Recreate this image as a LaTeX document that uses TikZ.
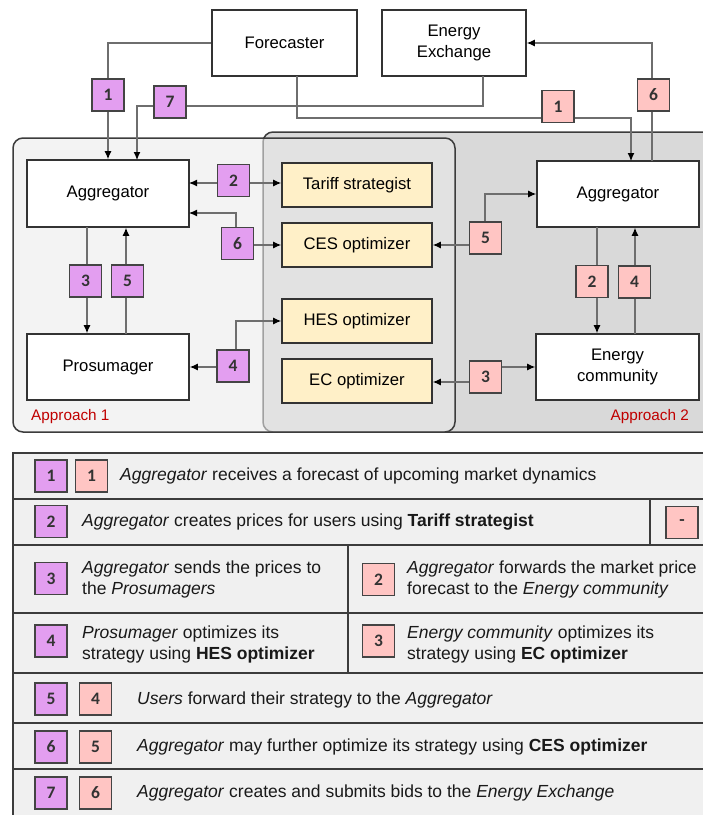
\documentclass[tikz,border=0pt]{standalone}
\usepackage{fontspec}
\setmainfont{Liberation Sans}
\newfontfamily\badgeface{Carlito}
\usetikzlibrary{arrows.meta,calc}

\definecolor{boxline}{HTML}{333333}
\definecolor{panelline}{HTML}{3C3C3C}
\definecolor{wirecol}{HTML}{6E6E6E}
\definecolor{badgeline}{HTML}{444444}
\definecolor{purpbadge}{HTML}{E39EF0}
\definecolor{pinkbadge}{HTML}{FFC5C3}
\definecolor{optfill}{HTML}{FFF0C8}
\definecolor{apponefill}{HTML}{EAEAEA}
\definecolor{apptwofill}{HTML}{D9D9D9}
\definecolor{legendfill}{HTML}{F0F0F0}
\definecolor{apptext}{HTML}{C00000}

\newcommand\boxfont{\fontsize{16.7pt}{21.5pt}\selectfont}
\newcommand\lgfont{\fontsize{17.5pt}{21pt}\selectfont}
\newcommand\badgetext{\badgeface\bfseries\fontsize{17.5pt}{20pt}\selectfont}
\newcommand\appfont{\fontsize{15.3pt}{18pt}\selectfont}

\begin{document}
\begin{tikzpicture}[x=1pt,y=-1pt,
  unit/.style={draw=boxline, line width=1.6pt, fill=white, inner sep=0pt,
    align=center, font=\boxfont, text=black},
  topbox/.style={unit, minimum width=145pt, minimum height=66pt},
  bigbox/.style={unit, minimum width=162pt, minimum height=66pt},
  optbox/.style={unit, fill=optfill, minimum width=150pt, minimum height=44pt},
  pb/.style={draw=badgeline, line width=1.2pt, fill=purpbadge,
    minimum size=32pt, inner sep=0pt, font=\badgetext, text=black!80},
  rb/.style={pb, fill=pinkbadge},
  wire/.style={draw=wirecol, line width=1.1pt},
  fwd/.style={-{Latex[length=8pt,width=7pt,color=black]}},
  twoway/.style={{Latex[length=8pt,width=7pt,color=black]}-{Latex[length=8pt,width=7pt,color=black]}},
  panel/.style={draw=panelline, line width=1.5pt, rounded corners=10pt},
  rule/.style={draw=panelline, line width=1.5pt},
  lgtext/.style={anchor=west, align=left, inner sep=0pt, font=\lgfont, text=black!90},
  applabel/.style={inner sep=0pt, font=\appfont, text=apptext}
]
\useasboundingbox (0,0) rectangle (703,815);
\clip (0,0) rectangle (703,815);

% ---------- the two approach panels ----------
\draw[panel, fill=apptwofill] (263,132) rectangle (730,432);
\draw[panel, fill=apponefill, fill opacity=0.58] (13,138) rectangle (455,432);

% ---------- actors and optimizers ----------
\node[topbox] (fc) at (284.5,43) {Forecaster};
\node[topbox, minimum width=144pt] (ex) at (454,43) {Energy\\Exchange};
\node[bigbox, minimum height=67pt] (aggL) at (108,193.5) {Aggregator};
\node[bigbox] (pros) at (108,367) {Prosumager};
\node[optbox] (tariff) at (357,185) {Tariff strategist};
\node[optbox] (ces) at (357,245) {CES optimizer};
\node[optbox] (hes) at (357,321) {HES optimizer};
\node[optbox] (ecopt) at (357,381) {EC optimizer};
\node[bigbox] (aggR) at (618,194) {Aggregator};
\node[bigbox, minimum width=163pt] (encom) at (617.5,367) {Energy\\community};

% ---------- attachment points ----------
\coordinate (exOut) at (483,76);
\coordinate (aggLin) at (137,160);
\coordinate (fcOut) at (297,76);
\coordinate (aggRin) at (631,161);
\coordinate (aggRout) at (652,161);
\coordinate (aggL2) at (189,183);
\coordinate (aggL6) at (189,213);
\coordinate (w6p) at (236,245);
\coordinate (aggL3) at (87,227);
\coordinate (pros5) at (126,334);
\coordinate (w4p) at (236,367);
\coordinate (w5r) at (485,245);
\coordinate (aggR2) at (597,227);
\coordinate (ec4) at (635,334);
\coordinate (w3l) at (485,382);
\coordinate (w3r) at (485,367);

% ---------- connectors ----------
% Approach 1
\draw[wire,fwd] (fc.west) -| (aggL.north);
\draw[wire,fwd] (exOut) -- ++(0,30) -| (aggLin);
\draw[wire,twoway] (aggL2) -- (aggL2 -| tariff.west);
\draw[wire,fwd] (w6p) |- (aggL6);
\draw[wire,fwd] (w6p) -- (w6p -| ces.west);
\draw[wire,fwd] (aggL3) -- (aggL3 |- pros.north);
\draw[wire,fwd] (pros5) -- (pros5 |- aggL.south);
\draw[wire,fwd] (w4p) -- (w4p -| pros.east);
\draw[wire,fwd] (w4p) |- (hes.west);
% Approach 2
\draw[wire,fwd] (fcOut) -- ++(0,42) -| (aggRin);
\draw[wire,fwd] (aggRout) |- (ex.east);
\draw[wire,fwd] (w5r) -- (w5r -| ces.east);
\draw[wire,fwd] (w5r) |- (aggR.west);
\draw[wire,fwd] (aggR2) -- (aggR2 |- encom.north);
\draw[wire,fwd] (ec4) -- (ec4 |- aggR.south);
\draw[wire,fwd] (w3l) -- (w3l -| ecopt.east);
\draw[wire,fwd] (w3r) -- (w3r -| encom.west);

% ---------- step badges on the connectors ----------
\node[pb] (p1) at (108,95) {1};
\node[pb] (p7) at (170,102) {7};
\node[pb] (p2) at (233.5,180.5) {2};
\node[pb] (p6) at (237.5,243.5) {6};
\node[pb] (p3) at (85.5,281) {3};
\node[pb] (p5) at (127.5,281) {5};
\node[pb] (p4) at (233,366) {4};
\node[rb] (r1) at (558,106.5) {1};
\node[rb] (r6) at (653.5,95) {6};
\node[rb] (r5) at (485.5,238) {5};
\node[rb] (r2) at (592,281.5) {2};
\node[rb] (r4) at (634.5,282) {4};
\node[rb] (r3) at (485.5,377) {3};

\node[applabel, anchor=west] (app1) at (31,417) {Approach 1};
\node[applabel, anchor=east] (app2) at (689,417) {Approach 2};

% ---------- legend table ----------
\draw[rule, fill=legendfill] (13,453) rectangle (730,840);
\foreach \yy in {499,545,613,673,723,769}
  \draw[rule] (13,\yy) -- (730,\yy);
\draw[rule] (650,499) -- (650,545);
\draw[rule] (348,545) -- (348,673);

% row 1
\node[pb] (l1p) at (51,476) {1};
\node[rb] (l1r) at (91.5,476) {1};
\node[lgtext] (t1) at (120,476) {\textit{Aggregator} receives a forecast of upcoming market dynamics};
% row 2
\node[pb] (l2p) at (51,521.5) {2};
\node[lgtext] (t2) at (82,522) {\textit{Aggregator} creates prices for users using \textbf{Tariff strategist}};
\node[rb] (l2r) at (682,522.5) {-};
% row 3
\node[pb] (l3p) at (51,578.5) {3};
\node[lgtext] (t3) at (82,579) {\textit{Aggregator} sends the prices to\\the \textit{Prosumagers}};
\node[rb] (l3r) at (378.5,579.5) {2};
\node[lgtext] (t3r) at (407,579) {\textit{Aggregator} forwards the market price\\forecast to the \textit{Energy community}};
% row 4
\node[pb] (l4p) at (51,641) {4};
\node[lgtext] (t4) at (82,644) {\textit{Prosumager} optimizes its\\strategy using \textbf{HES optimizer}};
\node[rb] (l4r) at (378.5,641) {3};
\node[lgtext] (t4r) at (407,644) {\textit{Energy community} optimizes its\\strategy using \textbf{EC optimizer}};
% row 5
\node[pb] (l5p) at (51,699) {5};
\node[rb] (l5r) at (95.5,699) {4};
\node[lgtext] (t5) at (137,700) {\textit{Users} forward their strategy to the \textit{Aggregator}};
% row 6
\node[pb] (l6p) at (51,747) {6};
\node[rb] (l6r) at (95.5,747) {5};
\node[lgtext] (t6) at (137,747) {\textit{Aggregator} may further optimize its strategy using \textbf{CES optimizer}};
% row 7
\node[pb] (l7p) at (51,793) {7};
\node[rb] (l7r) at (95.5,793) {6};
\node[lgtext] (t7) at (137,793) {\textit{Aggregator} creates and submits bids to the \textit{Energy Exchange}};
\end{tikzpicture}
\end{document}
